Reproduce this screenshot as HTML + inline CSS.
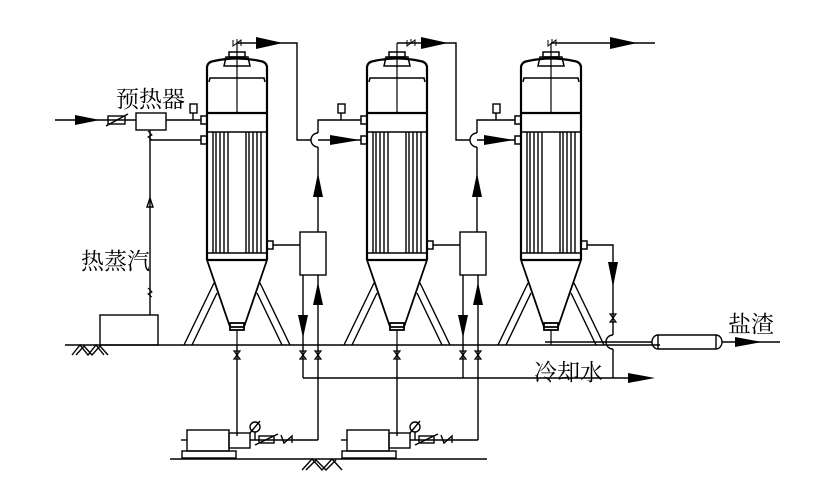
<!DOCTYPE html>
<html><head><meta charset="utf-8"><style>
html,body{margin:0;padding:0;background:#fff}
svg{display:block}
text{font-family:"Liberation Serif","Noto Serif CJK SC","Noto Sans CJK SC",serif;fill:#000}
</style></head><body>
<svg width="833" height="495" viewBox="0 0 833 495" xmlns="http://www.w3.org/2000/svg">
<defs>
<g id="vessel" fill="none" stroke="#000">
  <rect x="229" y="52" width="16" height="5" stroke-width="1.5"/>
  <path d="M224 66 L226 57 L248 57 L250 66 Z" stroke-width="1.5"/>
  <line x1="237" y1="43" x2="237" y2="113" stroke-width="1.2"/>
  <path d="M207 260 L207 68 Q207 62 214 61 Q237 56 260 61 Q267 62 267 68 L267 260" stroke-width="2.2"/>
  <path d="M209 82 L210 78 L264 78 L265 82" stroke-width="1.5"/>
  <line x1="207" y1="113" x2="267" y2="113" stroke-width="2.2"/>
  <line x1="207" y1="132" x2="267" y2="132" stroke-width="1.5"/>
  <line x1="207" y1="253" x2="267" y2="253" stroke-width="1.5"/>
  <line x1="207" y1="260" x2="267" y2="260" stroke-width="2.2"/>
  <g stroke-width="1.4">
   <line x1="213" y1="132" x2="213" y2="253"/><line x1="216" y1="132" x2="216" y2="253"/>
   <line x1="220" y1="132" x2="220" y2="253"/><line x1="224" y1="132" x2="224" y2="253"/>
   <line x1="228" y1="132" x2="228" y2="253"/><line x1="246" y1="132" x2="246" y2="253"/>
   <line x1="249" y1="132" x2="249" y2="253"/><line x1="253" y1="132" x2="253" y2="253"/>
   <line x1="257" y1="132" x2="257" y2="253"/><line x1="261" y1="132" x2="261" y2="253"/>
  </g>
  <path d="M207 260 L230 327 L244 327 L267 260" stroke-width="1.8"/>
  <rect x="230" y="323" width="14" height="7" stroke-width="1.8"/>
  <line x1="237" y1="330" x2="237" y2="345" stroke-width="1.2"/>
  <g stroke-width="1.4">
   <line x1="184" y1="345" x2="214" y2="283"/><line x1="192" y1="345" x2="217" y2="293"/>
   <line x1="290" y1="345" x2="260" y2="283"/><line x1="282" y1="345" x2="257" y2="293"/>
  </g>
  <rect x="201" y="116" width="6" height="8" stroke-width="1.5"/>
  <rect x="201" y="136" width="6" height="8" stroke-width="1.5"/>
  <rect x="267" y="241" width="6" height="8" stroke-width="1.5"/>
</g>
<g id="pump" fill="none" stroke="#000" stroke-width="1.4">
  <rect x="187" y="430" width="42" height="21"/>
  <rect x="229" y="433" width="21" height="15"/>
  <rect x="182" y="451" width="54" height="7"/>
  <line x1="181" y1="440" x2="187" y2="440"/>
  <line x1="250" y1="440" x2="318" y2="440"/>
  <circle cx="255" cy="427" r="5"/>
  <line x1="250" y1="433" x2="260" y2="421"/>
  <line x1="255" y1="432" x2="255" y2="440"/>
  <rect x="259" y="436" width="15" height="7"/>
  <line x1="255" y1="445" x2="278" y2="434"/>
  <path d="M281 435 L284 443 L292 436 L292 443"/>
</g>
<g id="valve" fill="none" stroke="#000" stroke-width="1.2">
  <path d="M-3 -4 L3 -4 L-3 4 L3 4 Z"/>
</g>
</defs>

<use href="#vessel"/>
<use href="#vessel" x="160"/>
<use href="#vessel" x="314"/>

<g fill="none" stroke="#000" stroke-width="1.4">
  <line x1="65" y1="345" x2="660" y2="345"/>
  <line x1="170" y1="459" x2="487" y2="459"/>
  <path d="M72 355 L80 345 L88 355 L96 345 L104 355 M76 355 L84 346 L92 355 L100 346 L108 355"/>
  <path d="M302 470 L312 459 L322 470 L332 459 L342 470 M306 470 L316 460 L326 470 L336 460"/>

  <line x1="55" y1="120" x2="136" y2="120"/>
  <rect x="108" y="116" width="17" height="8"/>
  <line x1="106" y1="126" x2="128" y2="114"/>
  <rect x="136" y="113" width="30" height="17"/>
  <line x1="166" y1="120" x2="201" y2="120"/>
  <line x1="193" y1="113" x2="193" y2="120"/>
  <rect x="190" y="104" width="7" height="9"/>
  <line x1="150" y1="130" x2="150" y2="315"/>
  <line x1="150" y1="140" x2="201" y2="140"/>
  <rect x="100" y="315" width="58" height="30"/>
  <path d="M147 207 L150 198 L153 207 Z"/>
  <path d="M148 131 L152 135 L148 137 L152 140" stroke-width="1"/>
  <path d="M148 288 L152 292 L148 294 L152 297" stroke-width="1"/>

  <path d="M237 43 L297 43 L297 140 L311 140"/>
  <path d="M318 133 A7 7 0 0 0 318 147"/>
  <line x1="318" y1="140" x2="361" y2="140"/>
  <path d="M397 43 L456 43 L456 140 L470 140"/>
  <path d="M477 133 A7 7 0 0 0 477 147"/>
  <line x1="477" y1="140" x2="515" y2="140"/>
  <path d="M551 43 L655 43"/>

  <rect x="300" y="232" width="26" height="43"/>
  <line x1="273" y1="245" x2="300" y2="245"/>
  <path d="M318 232 L318 147 M318 133 L318 120 L361 120"/>
  <line x1="341" y1="113" x2="341" y2="120"/>
  <rect x="338" y="104" width="7" height="9"/>
  <line x1="303" y1="275" x2="303" y2="378"/>
  <line x1="318" y1="275" x2="318" y2="440"/>
  <rect x="460" y="232" width="26" height="43"/>
  <line x1="433" y1="245" x2="460" y2="245"/>
  <path d="M477 232 L477 147 M477 133 L477 120 L515 120"/>
  <line x1="496" y1="113" x2="496" y2="120"/>
  <rect x="493" y="104" width="7" height="9"/>
  <line x1="463" y1="275" x2="463" y2="378"/>
  <line x1="478" y1="275" x2="478" y2="440"/>

  <line x1="237" y1="345" x2="237" y2="436"/>
  <line x1="397" y1="345" x2="397" y2="436"/>

  <line x1="303" y1="378" x2="630" y2="378"/>

  <path d="M587 245 L613 245 L613 335"/>
  <path d="M613 335 A7 7 0 0 0 613 349"/>
  <line x1="613" y1="349" x2="613" y2="378"/>
  <line x1="545" y1="342" x2="652" y2="342"/>
  <path d="M658 335 L716 335 A6 7 0 0 1 716 349 L658 349 A6 7 0 0 1 658 335 Z"/>
  <line x1="658" y1="335" x2="658" y2="349"/><line x1="716" y1="335" x2="716" y2="349"/>
  <line x1="722" y1="342" x2="780" y2="342"/>
</g>

<use href="#pump"/>
<use href="#pump" x="160"/>

<use href="#valve" x="237" y="355"/>
<use href="#valve" x="303" y="355"/>
<use href="#valve" x="318" y="355"/>
<use href="#valve" x="397" y="355"/>
<use href="#valve" x="463" y="355"/>
<use href="#valve" x="478" y="355"/>
<use href="#valve" x="613" y="318"/>
<g fill="none" stroke="#000" stroke-width="1">
 <path d="M233 40 L233 46 L241 40 L241 46 M237 43 L237 39"/>
 <path d="M407 40 L407 46 L415 40 L415 46 M411 43 L411 39"/>
 <path d="M548 40 L548 46 L556 40 L556 46 M552 43 L552 39"/>
</g>

<g fill="#000">
  <path d="M75 115 L100 120 L75 125 Z"/>
  <path d="M256 37 L283 43 L256 49 Z"/>
  <path d="M330 135 L360 140 L330 145 Z"/>
  <path d="M421 37 L448 43 L421 49 Z"/>
  <path d="M484 135 L514 140 L484 145 Z"/>
  <path d="M610 37 L637 43 L610 49 Z"/>
  <path d="M313 197 L318 173 L323 197 Z"/>
  <path d="M313 305 L318 282 L323 305 Z"/>
  <path d="M298 315 L303 338 L308 315 Z"/>
  <path d="M472 197 L477 173 L482 197 Z"/>
  <path d="M473 305 L478 282 L483 305 Z"/>
  <path d="M458 315 L463 338 L468 315 Z"/>
  <path d="M608 262 L613 287 L618 262 Z"/>
  <path d="M735 337 L762 342 L735 347 Z"/>
  <path d="M628 373 L655 378 L628 383 Z"/>
</g>

<text x="116" y="107" font-size="23">预热器</text>
<text x="81" y="269" font-size="23">热蒸汽</text>
<text x="728" y="332" font-size="23">盐渣</text>
<text x="534" y="380" font-size="23">冷却水</text>
</svg>
</body></html>
